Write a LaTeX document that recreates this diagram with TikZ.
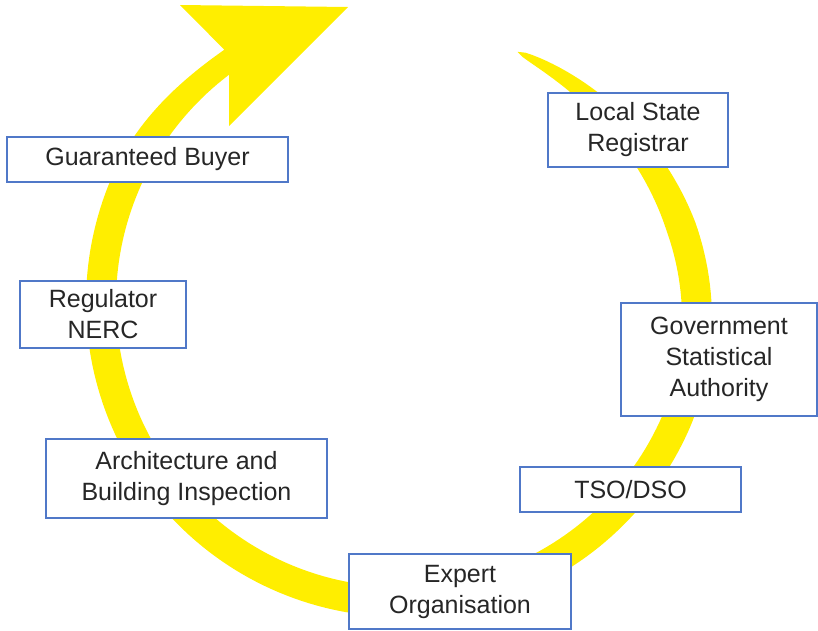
\documentclass[tikz,border=0pt]{standalone}
\usepackage{fontspec}
\setmainfont{Liberation Sans}
\definecolor{ringyellow}{HTML}{FFEE00}
\definecolor{boxblue}{HTML}{5078C8}
\definecolor{textgray}{HTML}{262626}
\begin{document}
\begin{tikzpicture}[x=1pt,y=-1pt,
  % radius profile of the circular band: tapered tail, constant width,
  % and a slight narrowing of the outer edge where it meets the head
  declare function={
    tt(\t)=min(max((\t-295)/90,0),1);
    mr(\t)=276+24*(3*tt(\t)^2-2*tt(\t)^3);
    wt(\t)=min(max((\t-295)/50,0),1);
    wd(\t)=30*sqrt(wt(\t));
    et(\t)=min(max((\t-565)/30,0),1);
    ro(\t)=mr(\t)+wd(\t)/2-7*(3*et(\t)^2-2*et(\t)^3);
    ri(\t)=mr(\t)-wd(\t)/2;
  },
  box/.style={draw=boxblue, line width=1.1pt, fill=white, inner sep=0pt,
    align=center, text=textgray, font=\fontsize{25}{31}\selectfont},
]
\useasboundingbox (0,0) rectangle (818,630);

% circular arrow (clockwise), tail at the top right, head at the top left
\fill[ringyellow]
  plot[domain=295:595, samples=200] ({401+ro(\x)*cos(\x)},{302+ro(\x)*sin(\x)})
  -- (180,5) -- (348,7) -- (229,126) -- (229,70)
  -- plot[domain=593:295, samples=200] ({401+ri(\x)*cos(\x)},{302+ri(\x)*sin(\x)})
  -- cycle;

% actors around the cycle
\node[box, minimum width=281pt, minimum height=45pt] (buyer) at (147.5,159.5) {Guaranteed Buyer};
\node[box, minimum width=166pt, minimum height=67pt] (regulator) at (103,314.5) {Regulator\\NERC};
\node[box, minimum width=281pt, minimum height=79pt] (arch) at (186.5,478.5) {Architecture and\\Building Inspection};
\node[box, minimum width=222pt, minimum height=75pt] (expert) at (460,591.5) {Expert\\Organisation};
\node[box, minimum width=221pt, minimum height=45pt] (tso) at (630.5,489.5) {TSO/DSO};
\node[box, minimum width=196pt, minimum height=113pt] (gov) at (719,359.5) {Government\\Statistical\\Authority};
\node[box, minimum width=180pt, minimum height=74pt] (local) at (638,130) {Local State\\Registrar};
\end{tikzpicture}
\end{document}
